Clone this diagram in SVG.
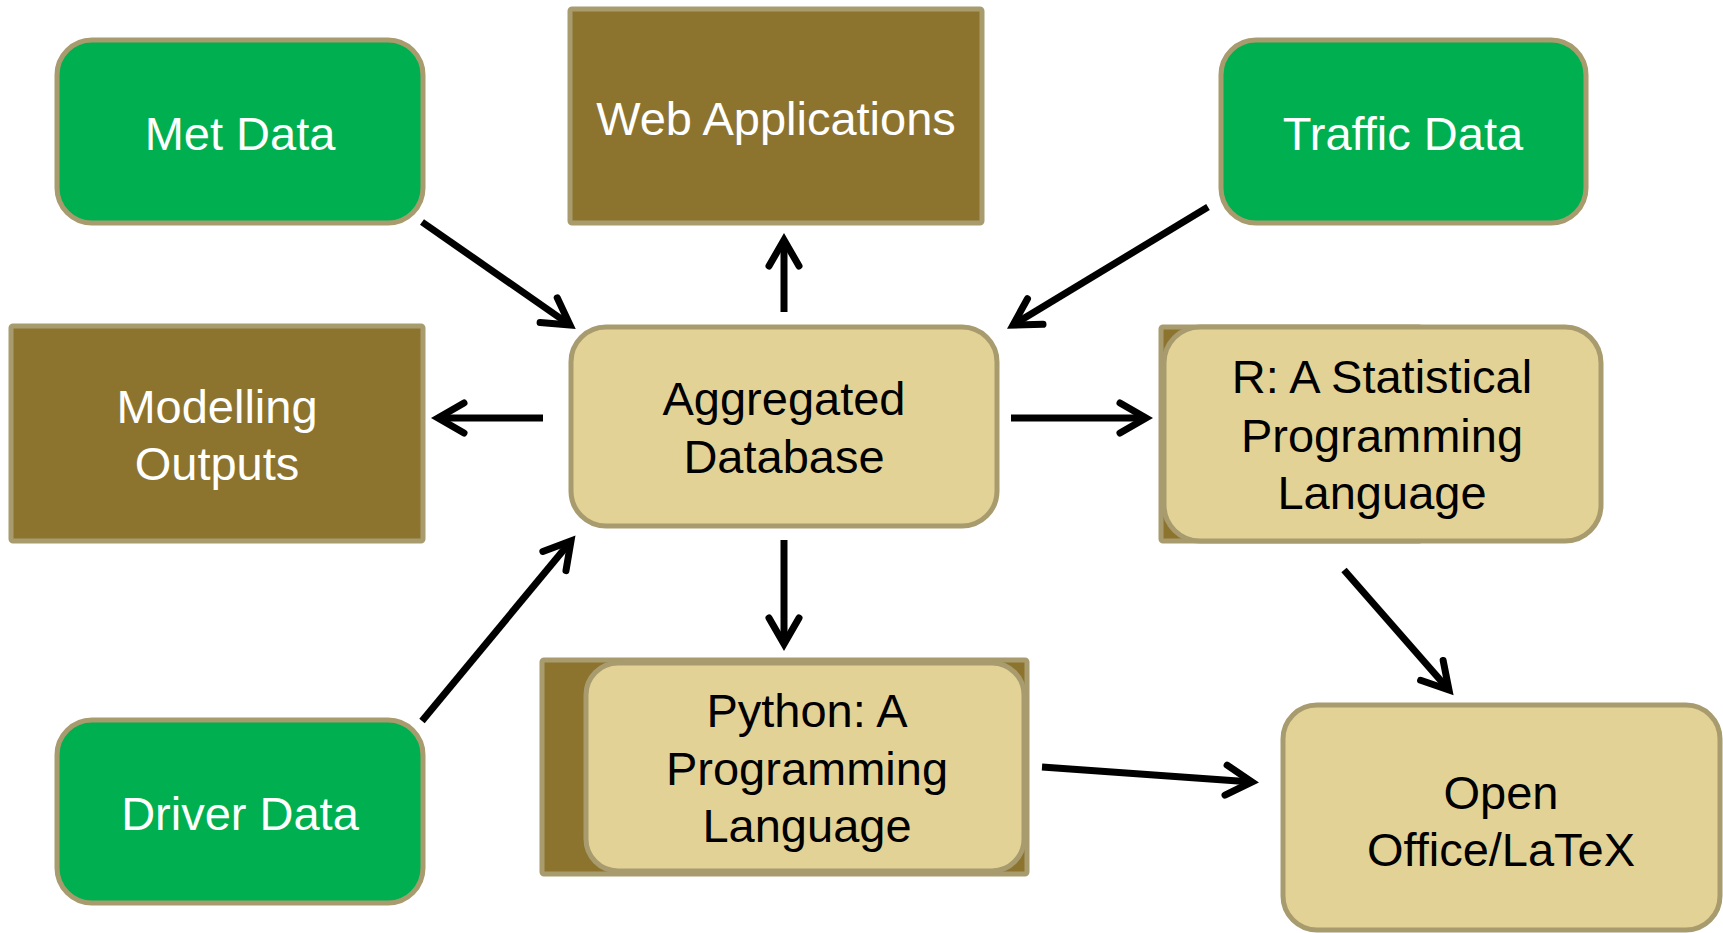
<svg xmlns="http://www.w3.org/2000/svg" width="1723" height="933" viewBox="0 0 1723 933">
<style>
.green{fill:#00B050;stroke:#A89B6E;stroke-width:5}
.brown{fill:#8C742F;stroke:#A89B6E;stroke-width:5}
.tan{fill:#E3D296;stroke:#A89B6E;stroke-width:5}
.tw{font-family:"Liberation Sans",Arial,sans-serif;font-size:47px;fill:#FFFFFF;text-anchor:middle}
.tb{font-family:"Liberation Sans",Arial,sans-serif;font-size:47px;fill:#000000;text-anchor:middle}
.conn line{stroke:#000;stroke-width:7;marker-end:url(#arr)}
</style>
<defs>
<marker id="arr" markerUnits="userSpaceOnUse" orient="auto" viewBox="-34 -22 44 44" refX="0" refY="0" markerWidth="44" markerHeight="44">
<path d="M-26,-15 L0,0 L-26,15" fill="none" stroke="#000" stroke-width="7" stroke-linecap="round" stroke-linejoin="miter"/>
</marker>
</defs>
<rect width="1723" height="933" fill="#FFFFFF"/>
<g id="met-data">
<rect class="green" x="57" y="40" width="366" height="183" rx="35"/>
<text class="tw" x="240" y="150">Met Data</text>
</g>
<g id="web-applications">
<rect class="brown" x="570" y="9" width="412" height="214" rx="2"/>
<text class="tw" x="776" y="135">Web Applications</text>
</g>
<g id="traffic-data">
<rect class="green" x="1221" y="40" width="365" height="183" rx="35"/>
<text class="tw" x="1403" y="150">Traffic Data</text>
</g>
<g id="modelling-outputs">
<rect class="brown" x="11" y="326" width="412" height="215" rx="2"/>
<text class="tw" x="217" y="423">Modelling</text>
<text class="tw" x="217" y="480">Outputs</text>
</g>
<g id="aggregated-database">
<rect class="tan" x="571" y="327" width="426" height="199" rx="35"/>
<text class="tb" x="784" y="415">Aggregated</text>
<text class="tb" x="784" y="473">Database</text>
</g>
<g id="r-language">
<rect class="brown" x="1161" y="327" width="260" height="214" rx="2"/>
<rect class="tan" x="1164" y="327" width="437" height="214" rx="36"/>
<text class="tb" x="1382" y="393">R: A Statistical</text>
<text class="tb" x="1382" y="452">Programming</text>
<text class="tb" x="1382" y="509">Language</text>
</g>
<g id="python-language">
<rect class="brown" x="542" y="660" width="485" height="214" rx="2"/>
<rect class="tan" x="586" y="663" width="438" height="208" rx="32"/>
<text class="tb" x="807" y="727">Python: A</text>
<text class="tb" x="807" y="785">Programming</text>
<text class="tb" x="807" y="842">Language</text>
</g>
<g id="driver-data">
<rect class="green" x="57" y="720" width="366" height="183" rx="35"/>
<text class="tw" x="240" y="830">Driver Data</text>
</g>
<g id="open-office-latex">
<rect class="tan" x="1283" y="705" width="437" height="225" rx="34"/>
<text class="tb" x="1501" y="809">Open</text>
<text class="tb" x="1501" y="866">Office/LaTeX</text>
</g>
<g id="connectors" class="conn">
<line x1="422" y1="222" x2="570" y2="325"/>
<line x1="784" y1="312" x2="784" y2="240"/>
<line x1="1208" y1="207" x2="1013" y2="325"/>
<line x1="543" y1="418" x2="438" y2="418"/>
<line x1="1011" y1="418" x2="1146" y2="418"/>
<line x1="422" y1="721" x2="571" y2="541"/>
<line x1="784" y1="540" x2="784" y2="644"/>
<line x1="1344" y1="570" x2="1449" y2="690"/>
<line x1="1042" y1="767" x2="1252" y2="782"/>
</g>
</svg>
